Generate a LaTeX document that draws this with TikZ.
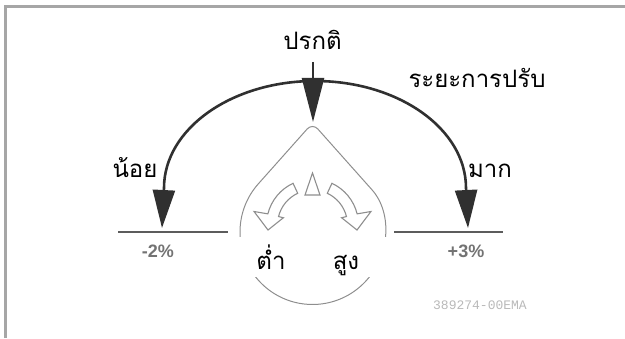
\documentclass[tikz,border=0pt]{standalone}
\usepackage{fontspec}
\setsansfont{Liberation Sans}
\newfontfamily\thaifont[Script=Thai]{Loma}
\newfontfamily\codefont{Liberation Mono}
\usepackage{tikz}
\usetikzlibrary{arrows.meta,calc}
\definecolor{ink}{HTML}{303030}
\definecolor{rim}{HTML}{8E8E8E}
\definecolor{scalegray}{HTML}{5C5C5C}
\tikzstyle{bigarrow}= [draw=ink, line width=2.6pt, -{Triangle[length=38pt,width=22pt]}]
\tikzstyle{thailabel}= [font=\thaifont\fontsize{24}{24}\selectfont, inner sep=0pt, anchor=base]
\tikzstyle{pct}= [font=\sffamily\bfseries\fontsize{18}{18}\selectfont, text=black!55, inner sep=0pt, anchor=base]
\tikzstyle{knobline}= [draw=rim, line width=1pt]

\begin{document}
\begin{tikzpicture}[x=1pt,y=1pt]
						\useasboundingbox (0,0) rectangle (625,338);
						\draw[gray!70, line width=3pt] (5.5,0) -- (5.5,331.5) -- (625,331.5);
						\node[thailabel] (normal) at (312.5,288) {ปรกติ};
						\node[thailabel] (range) at (477,250) {ระยะการปรับ};
						\node[thailabel] (less) at (135,160) {น้อย};
						\node[thailabel] (more) at (490,160) {มาก};
						\coordinate (ctop) at (313,276);
						\coordinate (ctip) at (313,216);
						\coordinate (arctop) at (315,257);
						\coordinate (lefttip) at (162,110);
						\coordinate (righttip) at (468,110);
						\coordinate (l1) at (118,106);
						\coordinate (l2) at (228,106);
						\coordinate (r1) at (394,106);
						\coordinate (r2) at (503,106);
						\draw[bigarrow] (arctop) arc[start angle=90, end angle=180, x radius=151, y radius=107] -- (lefttip);
						\draw[bigarrow] (arctop) arc[start angle=90, end angle=0, x radius=151, y radius=107] -- (righttip);
						\draw[bigarrow, -{Triangle[length=44pt,width=22pt]}] (ctop) -- (ctip);
						\draw[scalegray, line width=2.5pt] (l1) -- (l2);
						\draw[scalegray, line width=2.5pt] (r1) -- (r2);
						\node[pct] (minus) at (158,80) {-2\%};
						\node[pct] (plus) at (466,80) {+3\%};
						\coordinate (knob) at (312.5,106);
						\coordinate (apex) at (312.5,215);
						\draw[knobline] ($(knob)+(138.3:72.5)$) [rounded corners=8pt] -- (apex) -- ($(knob)+(41.7:72.5)$) [sharp corners] arc[start angle=41.7, end angle=-221.7, radius=72.5] -- cycle;
						\begin{scope}[shift={(312.5,113)}]
							\draw[knobline, line width=1.1pt] (0,52) -- (-7.5,30) -- (7.5,30) -- cycle;
							\foreach \s in {1,-1}
								\draw[knobline, line width=1.1pt, xscale=\s] (115:46) arc[start angle=115, end angle=166, radius=46] -- (167:60) -- (-44.5,-5) -- (166:30) -- (166:35) arc[start angle=166, end angle=115, radius=35] -- cycle;
						\end{scope}
						\fill[white] (237,61) rectangle (390,101);
						\node[thailabel] (low) at (271,68) {ต่ำ};
						\node[thailabel] (high) at (346,68) {สูง};
						\node[font=\codefont\fontsize{13}{13}\selectfont, text=gray!55] (code) at (480,33) {389274-00EMA};
					\end{tikzpicture}
\end{document}
